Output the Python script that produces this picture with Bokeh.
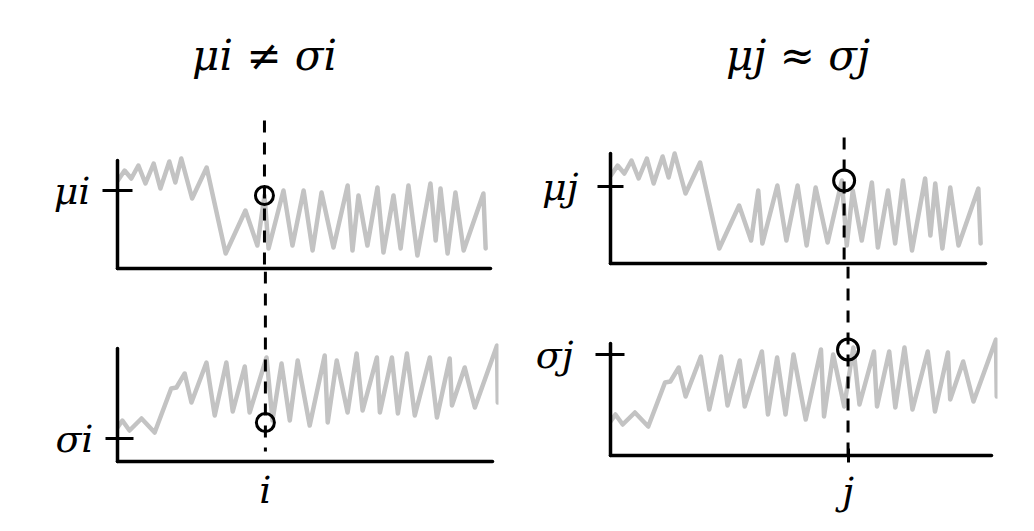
from bokeh.plotting import figure
from bokeh.layouts import row, column
from bokeh.models import Range1d, FixedTicker, CustomJSTickFormatter, Label, ColumnDataSource
from bokeh.embed import file_html
from bokeh.resources import INLINE

# ---------------- data ----------------
# mean series (top panels) : x = position along series (0-100), y = value
mu_x = [0.1, 1.9, 3.7, 5.6, 7.5, 9.7, 11.5, 13.9, 15.5, 17.1, 20.0, 23.9, 29.0, 34.3, 37.5,
        39.4, 40.5, 44.5, 46.9, 49.9, 52.3, 54.7, 57.9, 61.7, 63.0, 64.6, 67.0, 69.7, 71.3,
        74.0, 75.9, 78.0, 80.4, 83.9, 85.3, 86.6, 88.5, 90.6, 92.8, 98.1, 98.7]
mu_y = [8.8, 9.8, 9.0, 10.3, 8.5, 10.5, 8.0, 10.7, 8.6, 11.0, 7.0, 10.1, 1.5, 5.8, 2.3,
        7.3, 2.0, 7.8, 2.3, 7.8, 1.8, 7.6, 2.1, 8.3, 1.8, 7.3, 2.3, 8.1, 1.6,
        7.3, 2.0, 8.3, 1.3, 8.5, 2.8, 8.0, 1.5, 7.6, 1.8, 7.5, 2.0]

# standard-deviation series (bottom panels)
sigma_x = [0.0, 1.3, 3.2, 6.4, 9.9, 14.3, 15.7, 17.9, 19.7, 23.7, 25.9, 29.0, 30.7, 33.9, 35.2,
           39.7, 41.3, 43.7, 45.9, 48.0, 51.2, 55.2, 56.0, 58.4, 61.3, 63.7, 65.3, 69.1, 69.9,
           73.1, 74.7, 77.1, 79.2, 83.2, 85.1, 88.5, 89.1, 92.5, 95.2, 101.1, 101.3]
sigma_y = [3.4, 4.1, 3.1, 4.3, 2.9, 7.3, 7.4, 8.8, 5.9, 9.9, 4.6, 9.9, 5.0, 9.5, 4.9,
           10.4, 4.1, 9.8, 4.1, 10.1, 3.6, 10.6, 3.9, 10.1, 4.9, 10.8, 5.1, 10.4, 4.9,
           10.4, 4.8, 10.8, 4.6, 10.4, 4.4, 10.3, 5.6, 9.4, 5.4, 11.6, 5.9]

# marked positions (i, j) and marked values
marker_x = [39.4, 62.3]
mu_marker = [7.3, 8.3]
sigma_marker = [3.9, 10.6]

# y-axis tick levels and labels
mu_ticks = [7.8, 7.7]
sigma_ticks = [2.3, 10.1]
mu_tick_labels = ["μi", "μj"]
sigma_tick_labels = ["σi", "σj"]
x_tick_labels = ["i", "j"]
titles = ["μi ≠ σi", "μj ≈ σj"]

FONT = "DejaVu Serif"
GRAY = "#c3c3c3"


def panel(sx, sy, mx, my, ytick, ylab, xlab, left, fw, right, top, fh, bottom,
          xend, yend, ybound, dash, msize, tin, tout, stand, xtick):
    p = figure(frame_width=fw, frame_height=fh,
               min_border_left=left, min_border_right=right,
               min_border_top=top, min_border_bottom=bottom,
               x_range=Range1d(0, xend), y_range=Range1d(0, yend),
               output_backend="svg", toolbar_location=None, tools="", title=None)
    p.xgrid.visible = False
    p.ygrid.visible = False
    p.outline_line_color = None
    p.background_fill_color = "white"
    p.border_fill_color = "white"

    yax = p.yaxis[0]
    yax.ticker = FixedTicker(ticks=[ytick], minor_ticks=[])
    yax.formatter = CustomJSTickFormatter(args=dict(label=ylab), code="return label")
    yax.bounds = (0, ybound)
    yax.axis_line_width = 3.5
    yax.axis_line_color = "black"
    yax.axis_line_cap = "round"
    yax.major_tick_line_width = 3
    yax.major_tick_line_color = "black"
    yax.major_tick_in = tin
    yax.major_tick_out = tout
    yax.minor_tick_line_color = None
    yax.major_label_standoff = stand
    yax.major_label_text_font = FONT
    yax.major_label_text_font_style = "italic"
    yax.major_label_text_font_size = "38px"
    yax.major_label_text_color = "black"

    xax = p.xaxis[0]
    xax.bounds = (0, 100)
    xax.axis_line_width = 3.5
    xax.axis_line_color = "black"
    xax.axis_line_cap = "round"
    xax.minor_tick_line_color = None
    if xlab is None:
        xax.ticker = FixedTicker(ticks=[], minor_ticks=[])
        xax.major_tick_out = 0
        xax.major_tick_in = 0
        xax.major_label_standoff = 0
    else:
        xax.ticker = FixedTicker(ticks=[mx], minor_ticks=[])
        xax.formatter = CustomJSTickFormatter(args=dict(label=xlab), code="return label")
        xax.major_tick_in = xtick
        xax.major_tick_out = xtick
        xax.major_tick_line_width = 3
        xax.major_tick_line_color = "black"
        xax.major_label_standoff = 6
        xax.major_label_text_font = FONT
        xax.major_label_text_font_style = "italic"
        xax.major_label_text_font_size = "38px"
        xax.major_label_text_color = "black"

    src = ColumnDataSource(dict(x=sx, y=sy))
    p.line("x", "y", source=src, line_color=GRAY, line_width=4.5,
           line_join="round", line_cap="round")
    p.segment(x0=[mx], y0=[dash[0]], x1=[mx], y1=[dash[1]],
              line_color="black", line_width=3, line_dash="12 10")
    p.scatter([mx], [my], size=msize, marker="circle", fill_color=None,
              line_color="black", line_width=3)
    return p


# left column (index i)
tl = panel(mu_x, mu_y, marker_x[0], mu_marker[0], mu_ticks[0], mu_tick_labels[0], None,
           117, 373, 10, 8, 260, 3, 100, 26.0, 10.8, (14.8, 0), 18, 15, 15, 12, 0)
tl.add_layout(Label(x=marker_x[0], y=21.3, text=titles[0], text_font=FONT,
                    text_font_style="italic", text_font_size="42px",
                    text_align="center", text_baseline="middle", text_color="black"))
bl = panel(sigma_x, sigma_y, marker_x[0], sigma_marker[0], sigma_ticks[0], sigma_tick_labels[0],
           x_tick_labels[0], 113, 381, 6, 0, 190, 50, 101.5, 19.0, 11.3, (19.0, 1.0), 18, 16, 12, 12, 0)

# right column (index j)
tr = panel(mu_x, mu_y, marker_x[1], mu_marker[1], mu_ticks[1], mu_tick_labels[1], None,
           110, 375, 13, 8, 255, 3, 100, 25.5, 11.0, (12.6, 0), 21, 13, 13, 19, 0)
tr.add_layout(Label(x=50, y=20.8, text=titles[1], text_font=FONT,
                    text_font_style="italic", text_font_size="42px",
                    text_align="center", text_baseline="middle", text_color="black"))
br = panel(sigma_x, sigma_y, marker_x[1], sigma_marker[1], sigma_ticks[1], sigma_tick_labels[1],
           x_tick_labels[1], 107, 387, 4, 0, 189, 50, 101.5, 18.9, 11.2, (18.9, 0), 21, 14, 15, 22, 7)

layout = row(column(tl, bl), column(tr, br))

open("out.html", "w").write(file_html(layout, INLINE))
